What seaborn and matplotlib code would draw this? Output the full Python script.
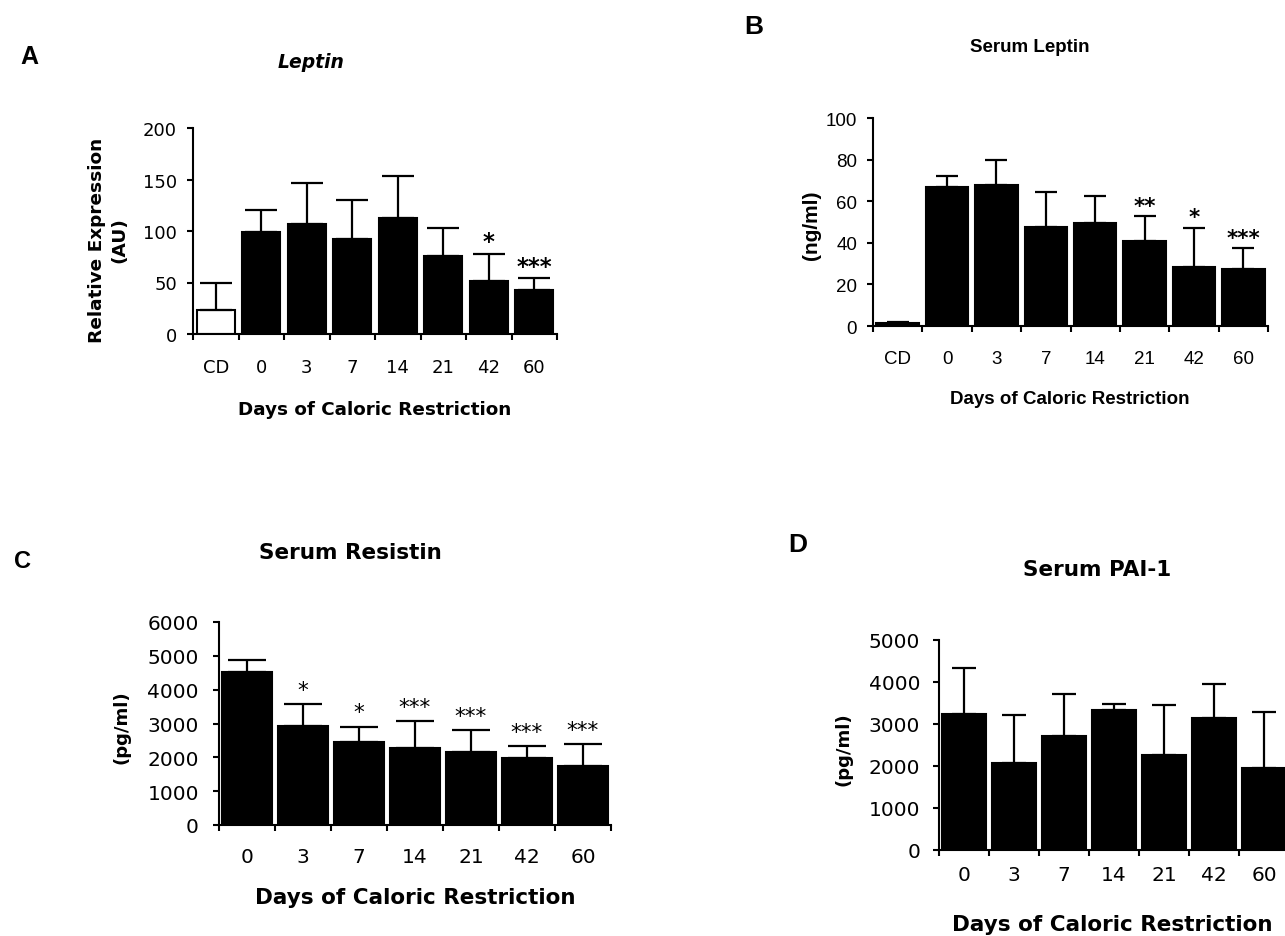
import matplotlib
matplotlib.use("Agg")
import matplotlib.pyplot as plt
import seaborn as sns
import numpy as np
import pandas as pd
from matplotlib import font_manager as fm

# ---------------- data ----------------
a_days = ["CD", "0", "3", "7", "14", "21", "42", "60"]
a_mean = [23, 99, 107, 92, 113, 76, 51, 43]
a_err = [27, 21, 40, 38, 40, 27, 27, 11]
a_stars = ["", "", "", "", "", "", "*", "***"]

b_days = ["CD", "0", "3", "7", "14", "21", "42", "60"]
b_mean = [1.3, 66.7, 67.6, 47.4, 49.4, 40.7, 28.2, 27.2]
b_err = [0.8, 5.4, 12.2, 17.2, 13.2, 12.3, 19.1, 10.3]
b_stars = ["", "", "", "", "", "**", "*", "***"]

c_days = ["0", "3", "7", "14", "21", "42", "60"]
c_mean = [4530, 2940, 2460, 2290, 2170, 1990, 1750]
c_err = [335, 640, 450, 770, 630, 345, 630]
c_stars = ["", "*", "*", "***", "***", "***", "***"]

d_days = ["0", "3", "7", "14", "21", "42", "60"]
d_mean = [3230, 2080, 2710, 3330, 2270, 3135, 1945]
d_err = [1095, 1135, 1005, 145, 1180, 815, 1335]

xlabel = "Days of Caloric Restriction"

# ---------------- fonts ----------------
names = {f.name for f in fm.fontManager.ttflist}
if "Liberation Sans Narrow" in names:
    NARROW, NK = "Liberation Sans Narrow", 1.15
else:
    NARROW, NK = "Liberation Sans", 0.9
WIDE = "DejaVu Sans"
ARIAL = "Liberation Sans"

sns.set_style("ticks")
plt.rcParams["font.family"] = [WIDE]
plt.rcParams["axes.linewidth"] = 1.5
for k in ("text.color", "axes.labelcolor", "xtick.color", "ytick.color",
          "axes.edgecolor"):
    plt.rcParams[k] = "black"

W, H = 1285, 937
fig = plt.figure(figsize=(W / 100, H / 100), dpi=100)


def P(x, y):
    return x / W, 1 - y / H


def rect(l, t, r, b):
    return [l / W, 1 - b / H, (r - l) / W, (b - t) / H]


def panel(rc, cats, means, errs, stars, ylim, yticks, faces, bar_w, capsize,
          tfont, tsize, sfont, ssize, sweight, ypad, xpad, soff):
    ax = fig.add_axes(rc)
    df = pd.DataFrame({"day": cats, "value": means})
    sns.barplot(data=df, x="day", y="value", hue="day", order=cats,
                hue_order=cats, palette=faces, width=bar_w, saturation=1,
                edgecolor="black", linewidth=1.5, errorbar=None,
                legend=False, ax=ax)
    xs = np.arange(len(cats))
    ax.errorbar(xs, means, yerr=[np.zeros(len(cats)), errs], fmt="none",
                ecolor="black", elinewidth=1.6, capsize=capsize,
                capthick=1.6, zorder=1)
    ax.set_xlim(-0.5, len(cats) - 0.5)
    ax.set_ylim(*ylim)
    ax.set_yticks(yticks)
    ax.set_xticks(xs, cats)
    ax.set_xticks(np.arange(-0.5, len(cats), 1.0), minor=True)
    ax.tick_params(axis="x", which="major", length=0, pad=xpad)
    ax.tick_params(axis="x", which="minor", length=4, width=1.5,
                   direction="out", color="black")
    ax.tick_params(axis="y", length=4.5, width=1.5, pad=ypad, color="black")
    for s in ("top", "right"):
        ax.spines[s].set_visible(False)
    for s in ("left", "bottom"):
        ax.spines[s].set_linewidth(1.5)
        ax.spines[s].set_color("black")
    ax.set_xlabel("")
    ax.set_ylabel("")
    for lbl in ax.get_xticklabels() + ax.get_yticklabels():
        lbl.set_fontfamily(tfont)
        lbl.set_fontsize(tsize)
        lbl.set_color("black")
    for i, s in enumerate(stars):
        if s:
            ax.annotate(s, (i, means[i] + errs[i]), xytext=(0, soff),
                        textcoords="offset points", ha="center",
                        va="baseline", fontsize=ssize, fontweight=sweight,
                        family=sfont, color="black")
    return ax


# Panel A
panel(rect(193, 129, 557, 335), a_days, a_mean, a_err, a_stars, (0, 200),
      [0, 50, 100, 150, 200], ["white"] + ["black"] * 7, 0.84, 11.5,
      WIDE, 13, WIDE, 16.5, "bold", 7, 17, 4)
# Panel B
panel(rect(873, 119, 1268, 327), b_days, b_mean, b_err, b_stars, (0, 100),
      [0, 20, 40, 60, 80, 100], ["black"] * 8, 0.86, 8,
      NARROW, 15 * NK, WIDE, 15.5, "bold", 7, 17, 3)
# Panel C
panel(rect(219, 623, 611, 826), c_days, c_mean, c_err, c_stars, (0, 6000),
      [0, 1000, 2000, 3000, 4000, 5000, 6000], ["black"] * 7, 0.89, 14,
      WIDE, 14.5, WIDE, 15.5, "normal", 10, 16, 6)
# Panel D
panel(rect(939, 641, 1289, 851), d_days, d_mean, d_err, [""] * 7, (0, 5000),
      [0, 1000, 2000, 3000, 4000, 5000], ["black"] * 7, 0.88, 8.5,
      WIDE, 14.5, WIDE, 15, "normal", 9, 11, 4)

# panel letters
fig.text(*P(29, 57), "A", ha="center", va="center", fontsize=18,
         fontweight="bold", family=ARIAL)
fig.text(*P(754, 27), "B", ha="center", va="center", fontsize=19,
         fontweight="bold", family=ARIAL)
fig.text(*P(22, 562), "C", ha="center", va="center", fontsize=17,
         fontweight="bold", family=ARIAL)
fig.text(*P(798, 545), "D", ha="center", va="center", fontsize=19,
         fontweight="bold", family=ARIAL)

# titles
fig.text(*P(311, 63), "Leptin", ha="center", va="center", fontsize=13.5,
         fontweight="bold", fontstyle="italic", family=WIDE)
fig.text(*P(1030, 47), "Serum Leptin", ha="center", va="center",
         fontsize=15 * NK, fontweight="bold", family=NARROW)
fig.text(*P(350, 553), "Serum Resistin", ha="center", va="center",
         fontsize=15.5, fontweight="bold", family=WIDE)
fig.text(*P(1097, 570), "Serum PAI-1", ha="center", va="center",
         fontsize=15.5, fontweight="bold", family=WIDE)

# x labels
fig.text(*P(375, 410), xlabel, ha="center", va="center", fontsize=13.2,
         fontweight="bold", family=WIDE)
fig.text(*P(1070, 400), xlabel, ha="center", va="center", fontsize=15 * NK,
         fontweight="bold", family=NARROW)
fig.text(*P(415, 898), xlabel, ha="center", va="center", fontsize=15.5,
         fontweight="bold", family=WIDE)
fig.text(*P(1112, 925), xlabel, ha="center", va="center", fontsize=15.5,
         fontweight="bold", family=WIDE)

# y labels
fig.text(*P(108, 240), "Relative Expression\n(AU)", ha="center",
         va="center", rotation=90, fontsize=13.3, fontweight="bold",
         family=WIDE, linespacing=1.3, multialignment="center")
fig.text(*P(812, 225), "(ng/ml)", ha="center", va="center", rotation=90,
         fontsize=15, fontweight="bold", family=ARIAL)
fig.text(*P(121, 727), "(pg/ml)", ha="center", va="center", rotation=90,
         fontsize=13, fontweight="bold", family=WIDE)
fig.text(*P(843, 749), "(pg/ml)", ha="center", va="center", rotation=90,
         fontsize=13, fontweight="bold", family=WIDE)

fig.savefig("out.png", dpi=100, facecolor="white")
